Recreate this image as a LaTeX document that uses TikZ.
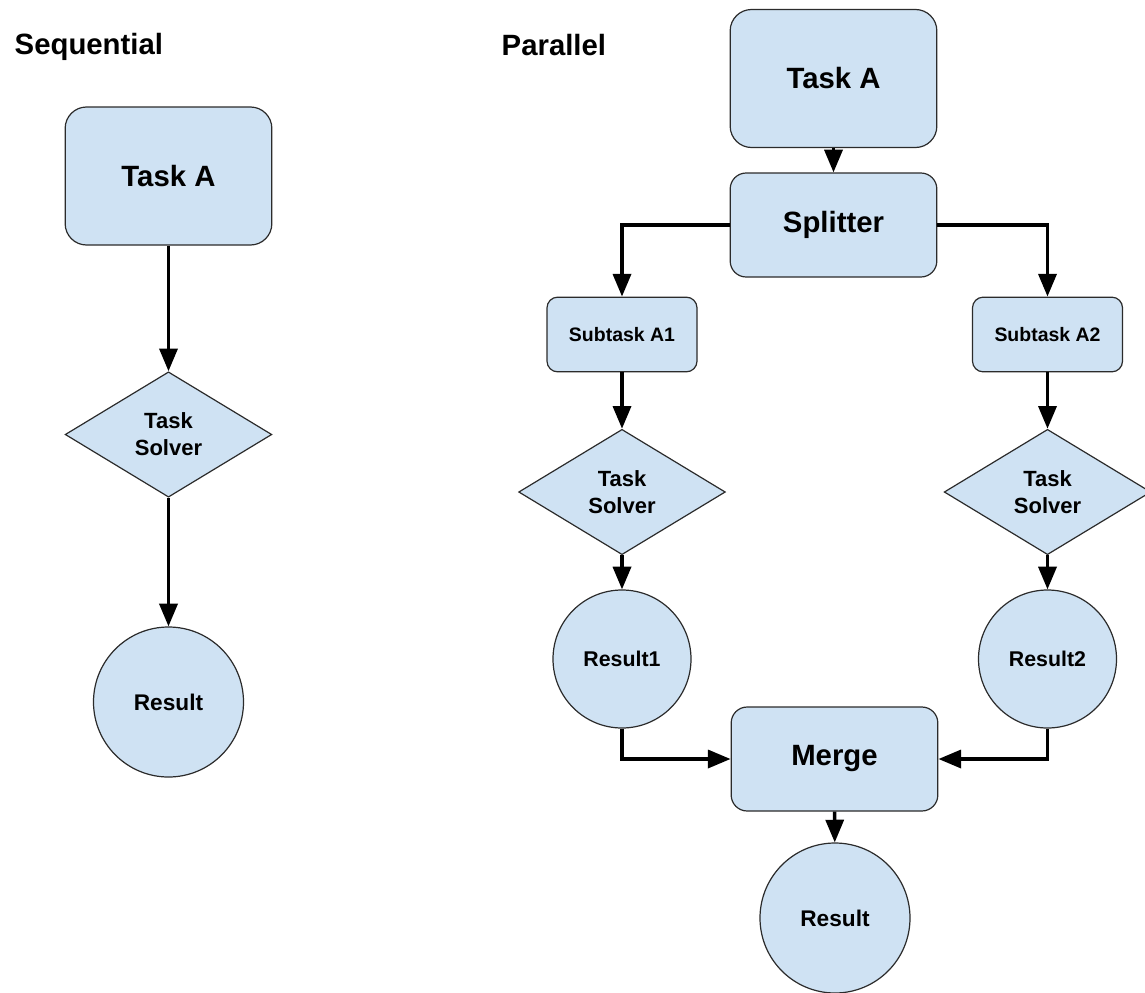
\documentclass[tikz,border=0pt]{standalone}
\usepackage{fontspec}
\setmainfont{Liberation Sans}
\usetikzlibrary{shapes.geometric,arrows.meta}
\definecolor{boxblue}{HTML}{CFE2F3}
\definecolor{edge}{HTML}{2B2B2B}
\begin{document}
\begin{tikzpicture}[x=0.75pt,y=-0.75pt,
    every node/.style={font=\bfseries},
    heading/.style={anchor=base west,font=\bfseries\fontsize{22}{26}\selectfont},
    shape base/.style={draw=edge,line width=0.9pt,fill=boxblue,inner sep=0pt,align=center},
    bigbox/.style={shape base,rectangle,rounded corners=16pt,minimum width=155pt,minimum height=103.5pt,font=\bfseries\fontsize{22}{26}\selectfont},
    midbox/.style={shape base,rectangle,rounded corners=12pt,minimum width=155pt,minimum height=78pt,font=\bfseries\fontsize{22}{26}\selectfont},
    subbox/.style={shape base,rectangle,rounded corners=8pt,minimum width=112.5pt,minimum height=56pt,font=\bfseries\fontsize{14.6}{17}\selectfont},
    solver/.style={shape base,diamond,minimum width=155pt,minimum height=94pt,font=\bfseries\fontsize{16.5}{20.2}\selectfont},
    result/.style={shape base,circle,minimum size=112.5pt,font=\bfseries\fontsize{17}{20}\selectfont},
    subresult/.style={result,minimum size=103.5pt,font=\bfseries\fontsize{16}{19}\selectfont},
    arr/.style={line width=2.6pt,-{Triangle[length=17pt,width=13.5pt]}}]
    \useasboundingbox (0,0) rectangle (1145,992);

    % headings
    \node[heading] (seqtitle) at (10,54) {Sequential};
    \node[heading] (partitle) at (497,55) {Parallel};

    % sequential chain
    \node[bigbox] (seqA) at (168.5,176) {Task A};
    \node[solver] (seqS) at (168.5,434.5) {Task\\Solver};
    \node[result] (seqR) at (168.5,702) {Result};
    \draw[arr] (seqA) -- (seqS);
    \draw[arr] (seqS) -- (seqR);

    % parallel chain
    \node[bigbox] (parA) at (833.5,78.5) {Task A};
    \node[midbox] (split) at (833.5,225) {Splitter};
    \node[subbox] (subA1) at (622,334.5) {Subtask A1};
    \node[subbox] (subA2) at (1047.5,334.5) {Subtask A2};
    \node[solver] (solv1) at (622,492) {Task\\Solver};
    \node[solver] (solv2) at (1047.5,492) {Task\\Solver};
    \node[subresult] (res1) at (622,659) {Result1};
    \node[subresult] (res2) at (1047.5,659) {Result2};
    \node[midbox] (merge) at (834.5,759) {Merge};
    \node[result] (res) at (835,918) {Result};

    \draw[arr] (parA) -- (split);
    \draw[arr] (split) -| (subA1);
    \draw[arr] (split) -| (subA2);
    \draw[arr] (subA1) -- (solv1);
    \draw[arr] (subA2) -- (solv2);
    \draw[arr] (solv1) -- (res1);
    \draw[arr] (solv2) -- (res2);
    \draw[arr] (res1) |- (merge);
    \draw[arr] (res2) |- (merge);
    \draw[arr] (merge) -- (res);
\end{tikzpicture}
\end{document}
